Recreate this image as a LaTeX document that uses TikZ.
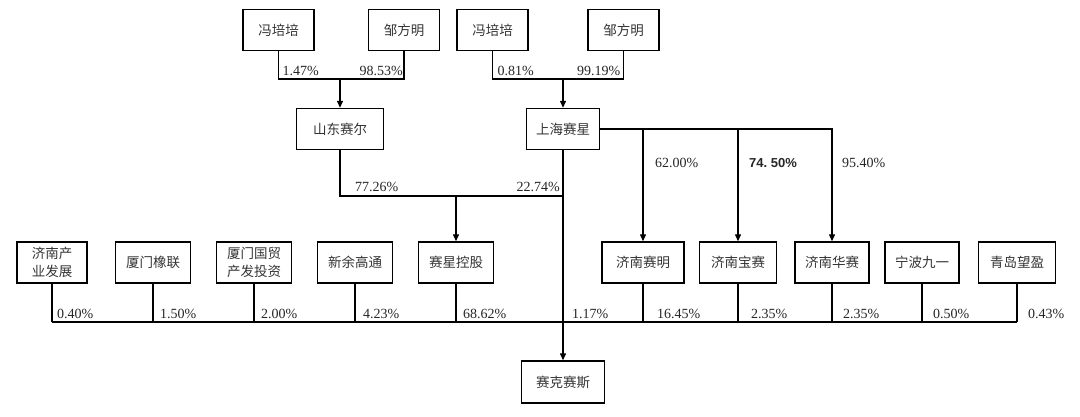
\documentclass[tikz,border=0pt]{standalone}
\usepackage{fontspec}
\setmainfont{Liberation Serif}
\newfontfamily\cjk{Noto Sans CJK SC}
\newfontfamily\boldsans{Liberation Sans}
\usetikzlibrary{positioning,arrows.meta}
\tikzset{
  box/.style={draw, line width=1.4pt, minimum width=72pt, minimum height=41pt, align=center, inner sep=2pt, text=black!80, font=\cjk\fontsize{13.5pt}{18pt}\selectfont},
  pct/.style={inner sep=0pt, anchor=base west, text=black!85, font=\fontsize{14pt}{16pt}\selectfont},
  link/.style={line width=1.3pt},
  arr/.style={link, -{Triangle[length=7pt,width=6pt]}}
}
\begin{document}
\begin{tikzpicture}[x=1pt, y=-1pt, node distance=101pt]
            \useasboundingbox (0,0) rectangle (1080,417);
            % shareholders on top
            \node(fpp1) [box, minimum width=71pt] at (278.5,30) {冯培培};
            \node(zfm1) [box, minimum width=71pt] at (404,30) {邹方明};
            \node(fpp2) [box, minimum width=71pt] at (492.5,30) {冯培培};
            \node(zfm2) [box, minimum width=71pt] at (623.5,30) {邹方明};
            \node(sdse) [box, minimum width=87pt] at (340,129) {山东赛尔};
            \node(shsx) [box, minimum width=73pt] at (563,129) {上海赛星};
            % bottom row
            \node(jncy) [box, minimum width=70pt] at (52,262.5) {济南产\\业发展};
            \node(xmxl) [box, minimum width=75pt, right of=jncy] {厦门橡联};
            \node(xmgm) [box, minimum width=75pt, right of=xmxl] {厦门国贸\\产发投资};
            \node(xygt) [box, minimum width=75pt, right of=xmgm] {新余高通};
            \node(sxkg) [box, minimum width=75pt, right of=xygt] {赛星控股};
            \node(jnsm) [box, minimum width=82pt] at (643,262.5) {济南赛明};
            \node(jnbs) [box, minimum width=77pt] at (738,262.5) {济南宝赛};
            \node(jnhs) [box, minimum width=74pt] at (832,262.5) {济南华赛};
            \node(nbjy) [box, minimum width=74pt] at (922,262.5) {宁波九一};
            \node(qdwy) [box, minimum width=77pt] at (1017,262.5) {青岛望盈};
            \node(sksx) [box, minimum width=83pt, minimum height=42pt] at (563,382) {赛克赛斯};
            % joins
            \coordinate (j1) at (340,79);
            \coordinate (j2) at (shsx.north |- j1);
            \coordinate (y3) at (0,196);
            \coordinate (j3) at (sxkg.north |- y3);
            \coordinate (y4) at (0,168);
            \coordinate (bus) at (0,322);
            \draw[link](fpp1.south) |- (j1) -| (zfm1.south);
            \draw[arr](j1) -- (sdse.north);
            \draw[link](fpp2.south) |- (j2) -| (zfm2.south);
            \draw[arr](j2) -- (shsx.north);
            \draw[link](sdse.south) |- (j3) -| (shsx.south);
            \draw[arr](j3) -- (sxkg.north);
            \draw[arr](shsx.south) -- (sksx.north);
            \draw[arr](shsx.east) -| (jnhs.north);
            \draw[arr](shsx.east -| jnsm.north) -- (jnsm.north);
            \draw[arr](shsx.east -| jnbs.north) -- (jnbs.north);
            \foreach \n in {jncy,xmxl,xmgm,xygt,sxkg,jnsm,jnbs,jnhs,nbjy,qdwy}
              \draw[link](\n.south) -- (\n.south |- bus);
            \draw[link](jncy.south |- bus) -- (qdwy.south |- bus);
            % percentages
            \path (fpp1.south |- j1) ++(4,-3) node[pct] (p147) {1.47\%};
            \path (zfm1.south |- j1) ++(-1,-3) node[pct, anchor=base east] (p9853) {98.53\%};
            \path (fpp2.south |- j1) ++(5,-3) node[pct] (p081) {0.81\%};
            \path (zfm2.south |- j1) ++(-3,-3) node[pct, anchor=base east] (p9919) {99.19\%};
            \path (sdse.south |- y3) ++(15,-4) node[pct] (p7726) {77.26\%};
            \path (shsx.south |- y3) ++(-3,-4) node[pct, anchor=base east] (p2274) {22.74\%};
            \path (jnsm.north |- y4) ++(12,0) node[pct] (p6200) {62.00\%};
            \path (jnbs.north |- y4) ++(11,0) node[pct, font=\boldsans\bfseries\fontsize{13pt}{16pt}\selectfont] (p7450) {74.~50\%};
            \path (jnhs.north |- y4) ++(10,0) node[pct] (p9540) {95.40\%};
            \foreach \n/\p/\dx in {jncy/0.40/5, xmxl/1.50/7, xmgm/2.00/7, xygt/4.23/8, sxkg/68.62/7,
                shsx/1.17/9, jnsm/16.45/14, jnbs/2.35/13, jnhs/2.35/11, nbjy/0.50/11, qdwy/0.43/11}
              \path (\n.south |- bus) ++(\dx,-4) node[pct] (p\n) {\p\%};
            \end{tikzpicture}
\end{document}
